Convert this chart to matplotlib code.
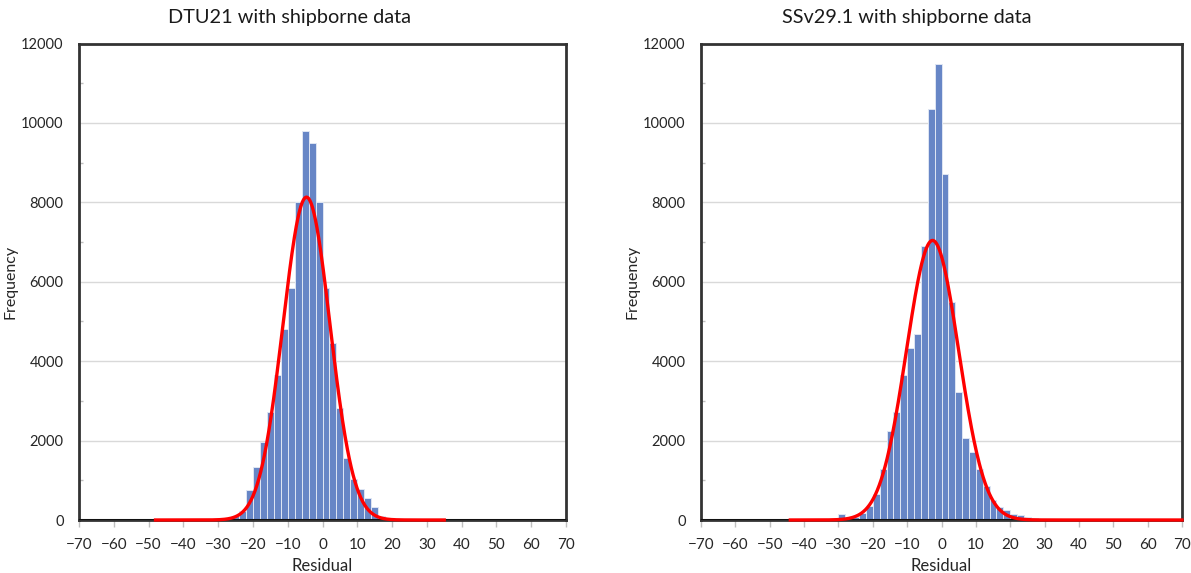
import numpy as np
import matplotlib
matplotlib.use("Agg")
import matplotlib.pyplot as plt
from matplotlib.ticker import MultipleLocator

plt.rcParams['font.family'] = ['Lato', 'DejaVu Sans']

# ---- data ----
bin_width = 2
dtu_bins = [-32, -30, -28, -26, -24, -22, -20, -18, -16, -14, -12, -10, -8, -6,
            -4, -2, 0, 2, 4, 6, 8, 10, 12, 14, 16, 18, 20]
dtu_counts = [10, 20, 30, 100, 227, 756, 1345, 1975, 2730, 3655, 4810, 5840, 8000, 9790,
              9500, 8000, 5840, 4450, 2830, 1555, 1025, 773, 546, 336, 100, 40, 20]

ssv_bins = [-32, -30, -28, -26, -24, -22, -20, -18, -16, -14, -12, -10, -8, -6,
            -4, -2, 0, 2, 4, 6, 8, 10, 12, 14, 16, 18, 20, 22, 24, 26, 28]
ssv_counts = [20, 145, 67, 75, 185, 345, 665, 1277, 2244, 2715, 3655, 4328, 4680, 6890,
              10345, 11496, 8706, 5479, 3235, 2070, 1700, 1277, 857, 504, 325, 252, 150, 126, 67, 40, 20]

# fitted normal curves (mean, std, peak height, x-range)
dtu_fit = dict(mean=-4.6, std=6.75, peak=8130, xmin=-48, xmax=35)
ssv_fit = dict(mean=-2.6, std=7.6, peak=7040, xmin=-44, xmax=70)

titles = ["DTU21 with shipborne data", "SSv29.1 with shipborne data"]
xticks = list(range(-70, 71, 10))
yticks = list(range(0, 12001, 2000))

W, H = 1191, 573
fig = plt.figure(figsize=(W / 100, H / 100), dpi=100)
ax1 = fig.add_axes([79 / W, 53 / H, 487 / W, 476.5 / H])
ax2 = fig.add_axes([701 / W, 53 / H, 481 / W, 476.5 / H])

bar_color = '#6786c6'
for ax, bins, counts, fit in [(ax1, dtu_bins, dtu_counts, dtu_fit),
                              (ax2, ssv_bins, ssv_counts, ssv_fit)]:
    ax.set_axisbelow(True)
    ax.yaxis.grid(True, color='#d9d9d9', linewidth=1.0)
    ax.bar(bins, counts, width=bin_width, align='edge', color=bar_color,
           edgecolor='#dfe6f3', linewidth=0.7, zorder=2)
    xs = np.linspace(fit['xmin'], fit['xmax'], 600)
    ys = fit['peak'] * np.exp(-0.5 * ((xs - fit['mean']) / fit['std']) ** 2)
    ax.set_xlim(-70, 70)
    ax.set_ylim(0, 12000)
    ax.axhline(0, color='#111111', linewidth=2.2, zorder=3)
    ax.plot(xs, ys, color='#ff0000', linewidth=2.4, zorder=4, clip_on=False)
    ax.set_xticks(xticks)
    ax.set_yticks(yticks)
    ax.yaxis.set_minor_locator(MultipleLocator(1000))
    ax.tick_params(axis='x', direction='out', length=5, color='#bfbfbf', width=1,
                   labelsize=11, pad=8, labelcolor='#262626')
    ax.tick_params(axis='y', which='major', length=0, labelsize=10.5, pad=11, labelcolor='#262626')
    ax.tick_params(axis='y', which='minor', direction='in', length=3, color='#bfbfbf', width=1)
    for s in ax.spines.values():
        s.set_color('#333333')
        s.set_linewidth(2.0)
    ax.set_xlabel("Residual", fontsize=12, labelpad=4, color='#262626')
    ax.set_ylabel("Frequency", fontsize=11.5, labelpad=3, color='#262626')

fig.text(290 / W, 1 - 17 / H, titles[0], fontsize=14.3, ha='center', va='center', color='#1a1a1a')
fig.text(907 / W, 1 - 17 / H, titles[1], fontsize=14.3, ha='center', va='center', color='#1a1a1a')

fig.savefig("out.png", dpi=100)
